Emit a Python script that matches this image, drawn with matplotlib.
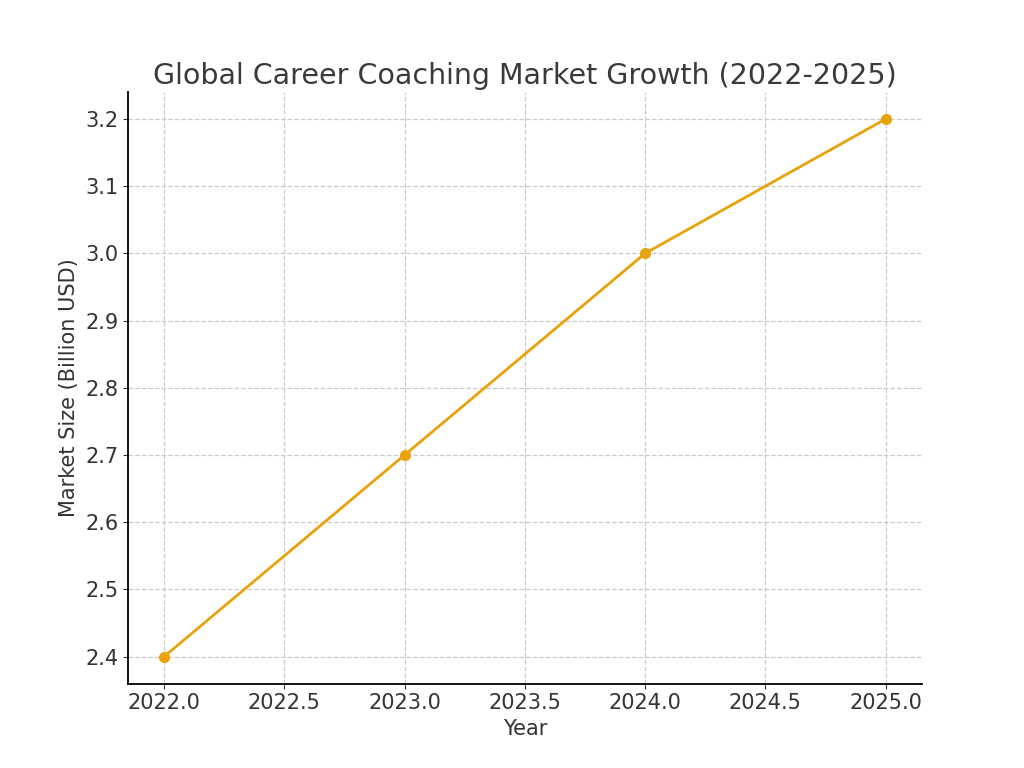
import matplotlib
matplotlib.use('Agg')
import matplotlib.pyplot as plt

years = [2022, 2023, 2024, 2025]
market_size = [2.4, 2.7, 3.0, 3.2]

plt.rcParams['font.family'] = ['DejaVu Sans']
plt.rcParams['text.color'] = '#333333'
plt.rcParams['axes.labelcolor'] = '#333333'
plt.rcParams['xtick.color'] = '#333333'
plt.rcParams['ytick.color'] = '#333333'

fig, ax = plt.subplots(figsize=(10.24, 7.68), dpi=100)
ax.plot(years, market_size, marker='o', color='#E8A30C', linewidth=2, markersize=7)

ax.set_title('Global Career Coaching Market Growth (2022-2025)', fontsize=20.5, color='#3a3a3a')
ax.set_xlabel('Year', fontsize=15)
ax.set_ylabel('Market Size (Billion USD)', fontsize=15)
ax.tick_params(labelsize=15)
ax.grid(True, linestyle='--', color='#cccccc', linewidth=0.9)
ax.spines['top'].set_visible(False)
ax.spines['right'].set_visible(False)
ax.spines['left'].set_linewidth(1.3)
ax.spines['bottom'].set_linewidth(1.3)

fig.savefig('out.png', dpi=100)
